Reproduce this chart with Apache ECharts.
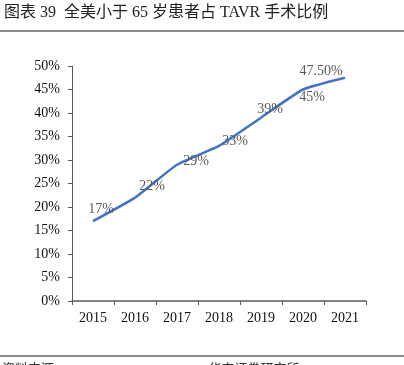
<!DOCTYPE html>
<html>
<head>
<meta charset="utf-8">
<script src="https://cdn.jsdelivr.net/npm/echarts@6/dist/echarts.min.js"></script>
<style>
  html, body { margin: 0; padding: 0; background: #fff; }
  #chart { width: 404px; height: 365px; }
</style>
</head>
<body>
<div id="chart"></div>
<script>
// data
var years = ['2015', '2016', '2017', '2018', '2019', '2020', '2021'];
var shares = [17, 22, 29, 33, 39, 45, 47.5];
var shareLabels = ['17%', '22%', '29%', '33%', '39%', '45%', '47.50%'];
var yTicks = [0, 5, 10, 15, 20, 25, 30, 35, 40, 45, 50];

// where each data label sits relative to its point (style, not data)
var labelShift = [[8, -12], [17, -11], [19, -3], [16, -5], [9, -8], [9, 8], [-24, -6]];

var serif = '"Liberation Serif", "Noto Sans CJK SC", serif';

var chart = echarts.init(document.getElementById('chart'));

var points = shares.map(function(v, i) {
    return {
        value: v,
        label: { offset: labelShift[i], formatter: shareLabels[i] }
    };
});

var option = {
    animation: false,
    backgroundColor: '#fff',
    grid: { left: 72, right: 38, top: 66, bottom: 64 },
    graphic: [
        {
            type: 'text', left: 4, top: 5,
            style: { text: '图表 39  全美小于 65 岁患者占 TAVR 手术比例', font: '16px ' + serif, fill: '#222' }
        },
        {
            type: 'rect', shape: { x: 0, y: 30, width: 404, height: 2 },
            style: { fill: '#8c8c8c' }
        },
        {
            type: 'rect', shape: { x: 0, y: 355, width: 404, height: 2 },
            style: { fill: '#8c8c8c' }
        },
        {
            type: 'text', left: 2, top: 363,
            style: { text: '资料来源：STS/ACC TVT Registry，华安证券研究所', font: '13px ' + serif, fill: '#333' }
        }
    ],
    xAxis: {
        type: 'category',
        data: years,
        boundaryGap: true,
        axisLine: { lineStyle: { color: '#595959', width: 1.5 } },
        axisTick: { show: true, length: 4, alignWithLabel: false, lineStyle: { color: '#595959' } },
        axisLabel: { color: '#111', fontSize: 14, fontFamily: serif, margin: 10 }
    },
    yAxis: {
        type: 'value',
        min: yTicks[0],
        max: yTicks[yTicks.length - 1],
        interval: yTicks[1] - yTicks[0],
        splitLine: { show: false },
        axisLine: { show: true, lineStyle: { color: '#595959', width: 1 } },
        axisTick: { show: true, length: 4, lineStyle: { color: '#595959' } },
        axisLabel: { color: '#111', fontSize: 14, fontFamily: serif, margin: 12, formatter: '{value}%' }
    },
    series: [{
        type: 'line',
        data: points,
        smooth: 0.15,
        symbol: 'circle',
        symbolSize: 1,
        showSymbol: true,
        itemStyle: { color: 'rgba(68,114,196,0)', borderWidth: 0 },
        lineStyle: { color: '#4472C4', width: 2.5 },
        label: {
            show: true,
            position: 'inside',
            color: '#595959',
            fontSize: 14,
            fontFamily: serif
        }
    }]
};
chart.setOption(option);
</script>
</body>
</html>
